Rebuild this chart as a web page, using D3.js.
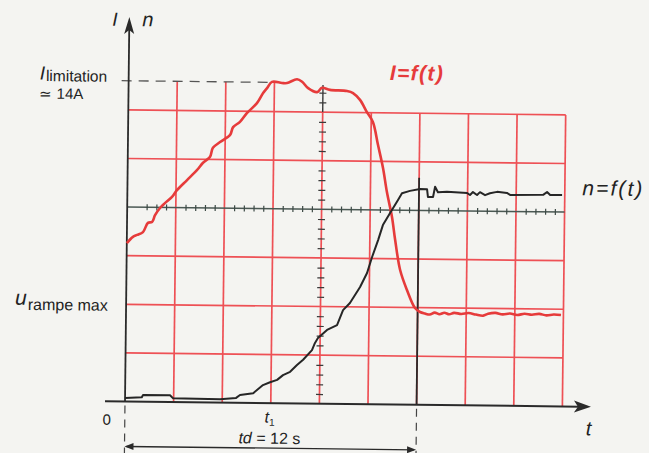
<!DOCTYPE html>
<html><head><meta charset="utf-8">
<script src="https://cdn.jsdelivr.net/npm/d3@7"></script>
<style>
html,body{margin:0;padding:0;background:#f4f4f1;}
svg{display:block;font-family:"Liberation Sans",Arial,sans-serif;}
</style>
</head><body>
<svg id="chart" width="649" height="453"></svg>
<script>
// time in seconds (1 grid division = 2 s), amplitudes in grid divisions
const currentT = [0,0.25,0.42,0.66,0.86,1.03,1.15,1.35,1.55,1.84,2.04,2.45,2.86,3.10,3.38,3.50,3.79,4.20,4.32,4.60,4.88,5.29,5.54,5.70,5.90,6.31,6.52,6.93,7.14,7.39,7.76,7.96,8.29,8.99,9.24,9.53,9.82,10.07,10.29,10.51,10.68,10.90,11.04,11.26,11.55,11.89,
  12.1,12.3,12.5,12.7,12.9,13.1,13.3,13.5,13.8,14.1,14.4,14.7,14.9,15.2,15.5,15.8,16.1,16.4,16.7,17.0,17.3,17.6,17.9];
const currentI = [3.26,3.39,3.43,3.49,3.68,3.70,3.84,3.99,4.09,4.22,4.36,4.57,4.78,4.93,5.05,5.24,5.36,5.51,5.67,5.78,5.96,6.17,6.38,6.48,6.61,6.59,6.59,6.67,6.62,6.49,6.41,6.50,6.46,6.44,6.40,6.26,6.01,5.81,5.34,4.86,4.37,3.86,3.39,2.77,2.36,1.99,
  1.91,1.88,1.86,1.90,1.87,1.90,1.87,1.90,1.88,1.90,1.87,1.85,1.89,1.91,1.88,1.90,1.87,1.90,1.88,1.90,1.87,1.89,1.88];
const speedT = [0,0.69,0.74,1.85,1.97,3.91,4.57,4.73,5.27,5.67,5.96,6.25,6.49,6.78,7.06,7.31,7.67,7.79,7.91,8.28,8.69,8.93,9.21,9.62,9.90,10.10,10.34,10.53,10.82,11.14,11.30,11.63,12.04,12.33,12.37,12.58,12.66,12.78,13.15,13.98,14.10,14.22,14.39,14.51,14.72,14.92,15.21,15.62,15.75,17.11,17.27,17.40,17.89];
const speedN = [0.07,0.09,0.14,0.14,0.08,0.07,0.10,0.16,0.20,0.37,0.43,0.48,0.58,0.65,0.79,0.90,1.10,1.25,1.35,1.52,1.62,1.93,2.08,2.41,2.70,3.03,3.38,3.69,3.94,4.21,4.35,4.40,4.44,4.44,4.28,4.28,4.49,4.38,4.39,4.37,4.33,4.39,4.33,4.39,4.33,4.37,4.40,4.38,4.34,4.35,4.41,4.35,4.35];
const gridT = [2,4,6,8,10,12,14,16,18];
const gridV = [1,2,3,5,6];
const refLevel = 4;        // ticked reference line
const iLimit = 6.6;        // I limitation ~ 14 A
const t1 = 6, td = 12;
const labelZero = "0", labelT1 = "t", labelTd = "td = 12 s";

const ox = 125, oy = 401.5, cell = 48.6;
const x = d3.scaleLinear().domain([0, 18]).range([ox, ox + 9 * cell]);
const y = d3.scaleLinear().domain([0, 6]).range([oy, oy - 6 * cell]);

const svg = d3.select('#chart');
svg.append('rect').attr('width', 649).attr('height', 453).attr('fill', '#f4f4f1');
const g = svg.append('g').attr('transform', `rotate(0.65,${ox},${oy})`);

const gridRed = '#ee5055', dark = '#2a2a2a';

// red grid
g.selectAll('.vcol').data(gridT).join('line')
  .attr('x1', d => x(d)).attr('x2', d => x(d))
  .attr('y1', y(0)).attr('y2', d => d <= 6 ? y(iLimit) : y(6))
  .attr('stroke', gridRed).attr('stroke-width', 1.7);
g.selectAll('.hrow').data(gridV).join('line')
  .attr('x1', x(0)).attr('x2', x(18))
  .attr('y1', d => y(d)).attr('y2', d => y(d))
  .attr('stroke', gridRed).attr('stroke-width', 1.7);

// ticked reference horizontal line
g.append('line').attr('x1', x(0)).attr('x2', x(18)).attr('y1', y(refLevel)).attr('y2', y(refLevel))
  .attr('stroke', '#4a5853').attr('stroke-width', 1.5);
const hTicks = d3.range(0.8, 18, 0.4).filter(v => Math.abs(v / 2 - Math.round(v / 2)) > 0.01);
const hAxis = g.append('g').attr('transform', `translate(0,${y(refLevel) - 3})`)
  .call(d3.axisBottom(x).tickValues(hTicks).tickSize(6).tickSizeOuter(0).tickFormat(''));
hAxis.select('.domain').remove();
hAxis.selectAll('line').attr('stroke', '#3d4a46').attr('stroke-width', 1.2);

// ticked vertical line at t = 8
g.append('line').attr('x1', x(8)).attr('x2', x(8)).attr('y1', y(6)).attr('y2', y(6.56))
  .attr('stroke', '#3a3a3a').attr('stroke-width', 1.4);
const vTicks = d3.range(0.2, 6.45, 0.2).filter(v => Math.abs(v - Math.round(v)) > 0.01);
const vAxis = g.append('g').attr('transform', `translate(${x(8) + 3.5},0)`)
  .call(d3.axisLeft(y).tickValues(vTicks).tickSize(7).tickSizeOuter(0).tickFormat(''));
vAxis.select('.domain').remove();
vAxis.selectAll('line').attr('stroke', '#3a3a3a').attr('stroke-width', 1.2);

// I limitation dashed
g.append('line').attr('x1', ox - 7).attr('x2', x(5.8)).attr('y1', y(iLimit)).attr('y2', y(iLimit))
  .attr('stroke', '#555').attr('stroke-width', 1.3).attr('stroke-dasharray', '10,7');

// td marker
g.append('line').attr('x1', x(td)).attr('x2', x(td)).attr('y1', y(4.67)).attr('y2', y(0))
  .attr('stroke', dark).attr('stroke-width', 1.8);
g.append('line').attr('x1', x(td)).attr('x2', x(td)).attr('y1', y(0) + 4).attr('y2', 460)
  .attr('stroke', '#444').attr('stroke-width', 1.2).attr('stroke-dasharray', '8,6');
g.append('line').attr('x1', x(0)).attr('x2', x(0)).attr('y1', y(0) + 4).attr('y2', 460)
  .attr('stroke', '#444').attr('stroke-width', 1.2).attr('stroke-dasharray', '8,6');

// axes
g.append('line').attr('x1', ox).attr('x2', ox).attr('y1', oy).attr('y2', 30)
  .attr('stroke', dark).attr('stroke-width', 1.8);
g.append('path').attr('d', `M${ox},17 L${ox - 5},34 L${ox},30 L${ox + 5},34 Z`).attr('fill', dark);
g.append('line').attr('x1', 105).attr('x2', 580).attr('y1', oy).attr('y2', oy)
  .attr('stroke', dark).attr('stroke-width', 2);
g.append('path').attr('d', `M591,${oy} L574,${oy - 6} L578,${oy} L574,${oy + 6} Z`).attr('fill', dark);

// td double arrow
const ay = 446.5;
g.append('line').attr('x1', x(0) + 2).attr('x2', x(td) - 2).attr('y1', ay).attr('y2', ay)
  .attr('stroke', dark).attr('stroke-width', 1.3);
g.append('path').attr('d', `M${x(0)},${ay} L${x(0) + 9},${ay - 3.5} L${x(0) + 9},${ay + 3.5} Z`).attr('fill', dark);
g.append('path').attr('d', `M${x(td)},${ay} L${x(td) - 9},${ay - 3.5} L${x(td) - 9},${ay + 3.5} Z`).attr('fill', dark);

// curves
const lineI = d3.line().x((d, i) => x(currentT[i])).y((d, i) => y(currentI[i])).curve(d3.curveCatmullRom.alpha(0.5));
g.append('path').attr('d', lineI(currentT)).attr('fill', 'none')
  .attr('stroke', '#e63b3b').attr('stroke-width', 2.6).attr('stroke-linejoin', 'round');
const lineN = d3.line().x((d, i) => x(speedT[i])).y((d, i) => y(speedN[i]));
g.append('path').attr('d', lineN(speedT)).attr('fill', 'none')
  .attr('stroke', '#262626').attr('stroke-width', 2).attr('stroke-linejoin', 'round');

// texts
const txt = (xx, yy, s, size, opts = {}) => g.append('text').attr('x', xx).attr('y', yy)
  .attr('font-size', size).attr('fill', opts.fill || '#222')
  .attr('font-style', opts.italic ? 'italic' : 'normal')
  .attr('font-weight', opts.bold ? 'bold' : 'normal')
  .attr('text-anchor', opts.anchor || 'start').text(s);

txt(108, 26, 'I', 19, { italic: true });
txt(138, 26, 'n', 20, { italic: true });

const lim = g.append('text').attr('x', 36).attr('y', 80.5).attr('fill', '#222');
lim.append('tspan').attr('font-size', 19).attr('font-style', 'italic').text('I');
lim.append('tspan').attr('font-size', 15.5).attr('dy', 1.5).attr('dx', 1).text('limitation');
txt(36, 99.5, '≃ 14A', 15);

const ur = g.append('text').attr('x', 14).attr('y', 306).attr('fill', '#222');
ur.append('tspan').attr('font-size', 21).attr('font-style', 'italic').text('u');
ur.append('tspan').attr('font-size', 16).attr('dy', 5).attr('dx', 1).text('rampe max');

txt(107, 425, labelZero, 15, { anchor: 'middle' });
const tt = g.append('text').attr('x', x(t1) - 6).attr('y', 421).attr('fill', '#222');
tt.append('tspan').attr('font-size', 16).attr('font-style', 'italic').text(labelT1);
tt.append('tspan').attr('font-size', 10).attr('dy', 3).text('1');

const tdt = g.append('text').attr('x', x(t1) - 1).attr('y', 442).attr('text-anchor', 'middle').attr('font-size', 16).attr('fill', '#222');
tdt.append('tspan').attr('font-style', 'italic').text('td');
tdt.append('tspan').text(labelTd.slice(2));

txt(586, 430, 't', 20, { italic: true });
txt(386, 77, 'I=f(t)', 21, { italic: true, bold: true, fill: '#e63b3b' }).attr('textLength', 53);
txt(580, 190, 'n=f(t)', 21, { italic: true }).attr('textLength', 60);
</script>
</body></html>
